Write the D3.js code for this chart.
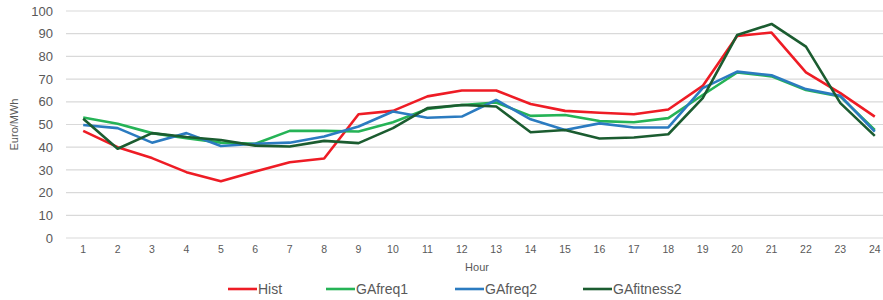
<!DOCTYPE html>
<html>
<head>
<meta charset="utf-8">
<script src="https://cdn.jsdelivr.net/npm/d3@7"></script>
<style>
  body { margin: 0; background: #fff; }
  #chart { width: 883px; height: 300px; font-family: "Liberation Sans", Arial, sans-serif; }
</style>
</head>
<body>
<div id="chart"></div>
<script>
// hours on the x axis
var hours = ["1","2","3","4","5","6","7","8","9","10","11","12","13","14","15","16","17","18","19","20","21","22","23","24"];
var yTicks = [0, 10, 20, 30, 40, 50, 60, 70, 80, 90, 100];

// series values (Euro/MWh)
var hist       = [47.2, 40, 35.2, 29, 25, 29.3, 33.4, 35, 54.5, 56, 62.4, 65, 65, 59, 56, 55.2, 54.5, 56.6, 67, 89, 90.5, 73, 63.8, 53.5];
var gaFreq1    = [53.1, 50.3, 46.2, 44, 42, 41.5, 47.2, 47.2, 46.9, 51, 56.8, 58.6, 59.7, 53.8, 54.2, 51.5, 51, 52.8, 63, 72.9, 71.2, 65.2, 62.3, 47.6];
var gaFreq2    = [49.8, 48.4, 42, 46.2, 40.5, 41.5, 42, 44.7, 49.1, 55.7, 53, 53.5, 60.8, 52.3, 47.6, 50.5, 48.7, 48.7, 66, 73.3, 71.7, 65.6, 62.6, 46.9];
var gaFitness2 = [52.5, 39.3, 46.2, 44.5, 43.2, 40.7, 40.3, 42.8, 41.8, 48.4, 57.2, 58.6, 57.9, 46.6, 47.6, 43.8, 44.3, 45.7, 61.6, 89.4, 94.3, 84.3, 59.4, 45];

var seriesNames  = ["Hist", "GAfreq1", "GAfreq2", "GAfitness2"];
var seriesValues = [hist, gaFreq1, gaFreq2, gaFitness2];
var seriesColors = ["#ee1c25", "#25b356", "#2b7bc0", "#1b5c30"];

var margin = {top: 11, right: -9, bottom: 62, left: 66},
    width = 883 - margin.left - margin.right,
    height = 300 - margin.top - margin.bottom;

var svg = d3.select("#chart")
    .append("svg")
        .attr("width", 883)
        .attr("height", 300)
    .append("g")
        .attr("transform", "translate(" + margin.left + "," + margin.top + ")");

var x = d3.scaleBand()
    .domain(hours)
    .range([0, width]);

var y = d3.scaleLinear()
    .domain([0, 100])
    .range([height, 0]);

// gridlines
svg.append("g")
    .selectAll("line")
    .data(yTicks)
    .enter()
    .append("line")
        .attr("x1", 0)
        .attr("x2", width)
        .attr("y1", function(d) { return y(d); })
        .attr("y2", function(d) { return y(d); })
        .style("stroke", "#d9d9d9")
        .style("stroke-width", 1.2);

// y axis
svg.append("g")
    .style("font-size", "13px")
    .style("font-family", "inherit")
    .call(d3.axisLeft(y).tickValues(yTicks).tickSize(0).tickPadding(13))
    .call(function(g) { g.select(".domain").remove(); })
    .selectAll("text")
        .style("fill", "#595959");

// x axis
svg.append("g")
    .attr("transform", "translate(0," + height + ")")
    .style("font-size", "10.5px")
    .style("font-family", "inherit")
    .call(d3.axisBottom(x).tickSize(0).tickPadding(8))
    .call(function(g) { g.select(".domain").remove(); })
    .selectAll("text")
        .style("fill", "#595959");

// axis titles
svg.append("text")
    .attr("x", x("13") - 2)
    .attr("y", height + 33)
    .attr("text-anchor", "middle")
    .style("font-size", "11px")
    .style("fill", "#595959")
    .text("Hour");

svg.append("text")
    .attr("transform", "translate(" + (-48) + "," + y(50) + ") rotate(-90)")
    .attr("text-anchor", "middle")
    .style("font-size", "11px")
    .style("fill", "#595959")
    .text("Euro/MWh");

// lines
var line = d3.line()
    .x(function(d, i) { return x(hours[i]) + x.bandwidth() / 2; })
    .y(function(d) { return y(d); });

svg.selectAll(".series")
    .data(seriesValues)
    .enter()
    .append("path")
        .attr("class", "series")
        .attr("d", line)
        .style("fill", "none")
        .style("stroke", function(d, i) { return seriesColors[i]; })
        .style("stroke-width", 2.6)
        .style("stroke-linejoin", "round");

// legend
var legendX = [228, 326, 455, 583];
var legend = svg.selectAll(".legend")
    .data(seriesNames)
    .enter()
    .append("g")
        .attr("class", "legend")
        .attr("transform", function(d, i) { return "translate(" + (legendX[i] - margin.left) + "," + (289 - margin.top) + ")"; });

legend.append("line")
    .attr("x1", 0)
    .attr("x2", 29)
    .style("stroke", function(d, i) { return seriesColors[i]; })
    .style("stroke-width", 2.6);

legend.append("text")
    .attr("x", 30)
    .attr("dy", "0.35em")
    .style("font-size", "14px")
    .style("fill", "#595959")
    .text(function(d) { return d; });
</script>
</body>
</html>
